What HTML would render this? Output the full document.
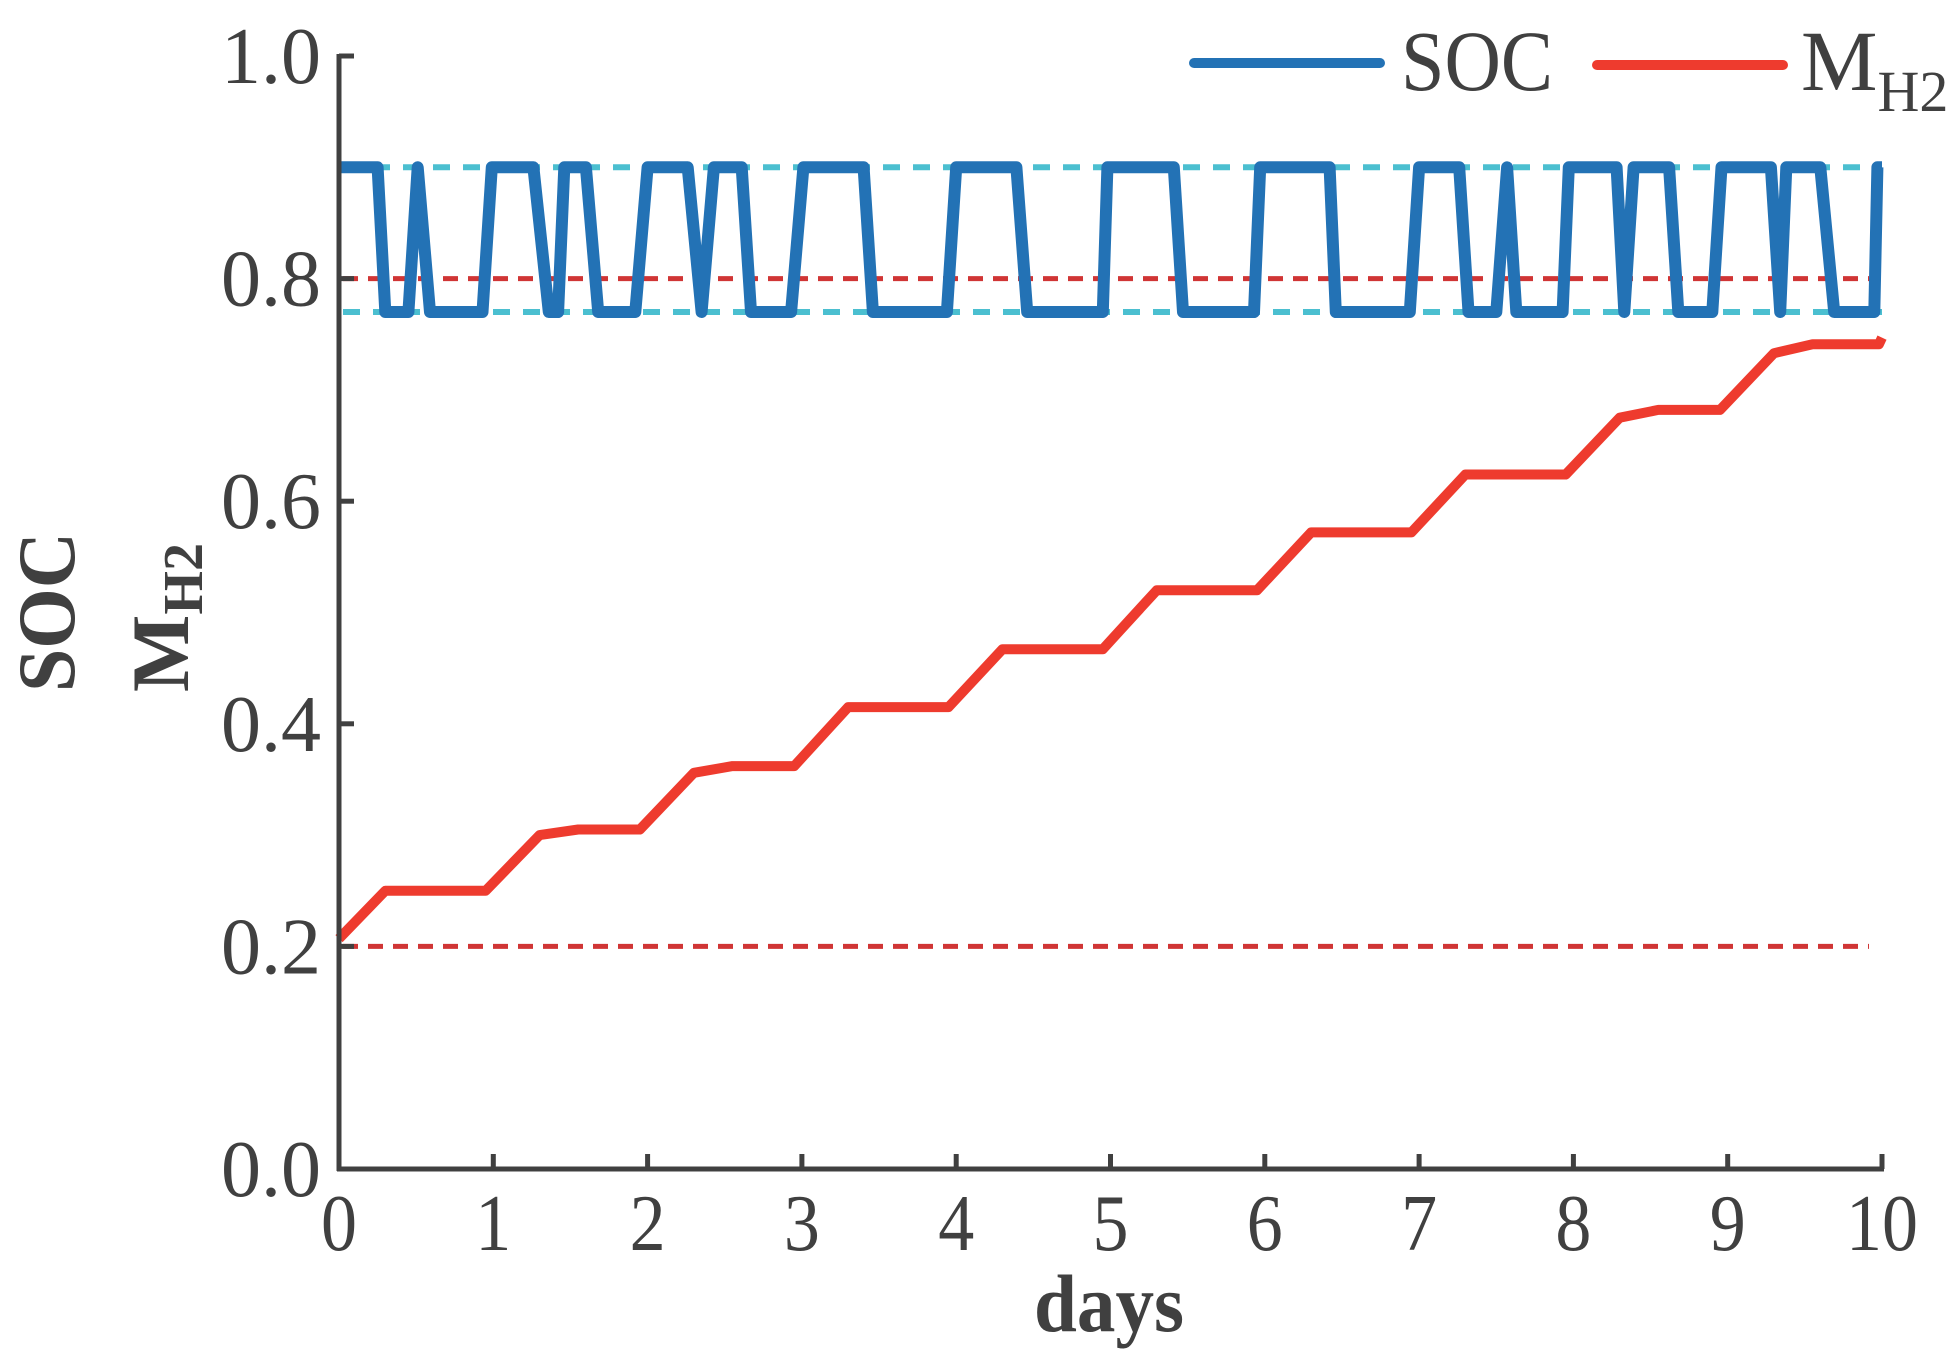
<!DOCTYPE html>
<html><head><meta charset="utf-8"><style>
html,body{margin:0;padding:0;background:#fff;}
svg{display:block;font-family:"Liberation Serif",serif;}
</style></head><body>
<svg id="chart" width="1954" height="1364" viewBox="0 0 1954 1364" xmlns="http://www.w3.org/2000/svg">
<g id="plot"></g>
</svg>
<script>
const socDays=[0,0.25,0.30,0.45,0.51,0.59,0.93,0.99,1.26,1.36,1.42,1.46,1.60,1.68,1.92,2.0,2.26,2.35,2.43,2.61,2.67,2.93,3.01,3.40,3.46,3.94,4.0,4.39,4.46,4.95,4.98,5.41,5.47,5.93,5.97,6.42,6.46,6.94,7.0,7.26,7.32,7.5,7.57,7.63,7.93,7.97,8.28,8.33,8.39,8.62,8.68,8.90,8.96,9.28,9.34,9.38,9.6,9.69,9.95,9.97,10];
const socVals=[0.9,0.9,0.77,0.77,0.9,0.77,0.77,0.9,0.9,0.77,0.77,0.9,0.9,0.77,0.77,0.9,0.9,0.77,0.9,0.9,0.77,0.77,0.9,0.9,0.77,0.77,0.9,0.9,0.77,0.77,0.9,0.9,0.77,0.77,0.9,0.9,0.77,0.77,0.9,0.9,0.77,0.77,0.9,0.77,0.77,0.9,0.9,0.77,0.9,0.9,0.77,0.77,0.9,0.9,0.77,0.9,0.9,0.77,0.77,0.9,0.9];
const mDays=[0,0.3,0.95,1.3,1.55,1.95,2.3,2.55,2.95,3.3,3.95,4.3,4.95,5.3,5.95,6.3,6.95,7.3,7.95,8.3,8.55,8.95,9.3,9.55,9.98,10];
const mVals=[0.207,0.25,0.25,0.30,0.305,0.305,0.356,0.362,0.362,0.415,0.415,0.467,0.467,0.52,0.52,0.572,0.572,0.624,0.624,0.675,0.682,0.682,0.733,0.741,0.741,0.747];
const xTicks=[0,1,2,3,4,5,6,7,8,9,10];
const yTicks=[0.0,0.2,0.4,0.6,0.8,1.0];
const yTickLabels=["0.0","0.2","0.4","0.6","0.8","1.0"];
const cyanLevels=[0.9,0.77];
const redLevels=[0.8,0.2];

const X0=339,X1=1882,Y0=1169,Y1=56;
const sx=d=>X0+(X1-X0)*d/10;
const sy=v=>Y0-(Y0-Y1)*v;
const NS="http://www.w3.org/2000/svg";
const g=document.getElementById('plot');
function mk(tag,attrs,parent){const e=document.createElementNS(NS,tag);for(const k in attrs)e.setAttribute(k,attrs[k]);(parent||g).appendChild(e);return e;}

cyanLevels.forEach(v=>{
const l=mk('line',{x1:X0+4,x2:X1,y1:sy(v),y2:sy(v),stroke:'#4bbfd0','stroke-width':6,'stroke-dasharray':'17 13'});


});
redLevels.forEach(v=>{
const l=mk('line',{x1:X0+4,x2:1869,y1:sy(v),y2:sy(v),stroke:'#d03535','stroke-width':5,'stroke-dasharray':'15 10'});


});

let p=socDays.map((d,i)=>(i?'L':'M')+sx(d).toFixed(1)+','+sy(socVals[i]).toFixed(1)).join('');
const soc=mk('path',{d:p,fill:'none',stroke:'#2372b5','stroke-width':12,'stroke-linejoin':'round'});


p=mDays.map((d,i)=>(i?'L':'M')+sx(d).toFixed(1)+','+sy(mVals[i]).toFixed(1)).join('');
const mh=mk('path',{d:p,fill:'none',stroke:'#ee3b2e','stroke-width':10,'stroke-linejoin':'round'});



const ya=mk('line',{x1:X0,x2:X0,y1:Y1-2,y2:Y0+2,stroke:'#404040','stroke-width':5});


const xa=mk('line',{x1:X0-2,x2:X1+2,y1:Y0,y2:Y0,stroke:'#404040','stroke-width':5});


yTicks.forEach((v,i)=>{
const t=mk('line',{x1:X0,x2:X0+15,y1:sy(v),y2:sy(v),stroke:'#404040','stroke-width':5});


const tx=mk('text',{x:321,y:sy(v)+27,'text-anchor':'end','font-size':80,fill:'#404040',textLength:100,lengthAdjust:'spacingAndGlyphs'});
tx.textContent=yTickLabels[i];


});
xTicks.forEach(d=>{
const t=mk('line',{x1:sx(d),x2:sx(d),y1:Y0,y2:Y0-15,stroke:'#404040','stroke-width':5});


const s=String(d);
const tx=mk('text',{x:sx(d),y:1250,'text-anchor':'middle','font-size':80,fill:'#404040',textLength:s.length*36,lengthAdjust:'spacingAndGlyphs'});
tx.textContent=s;


});
</script>
<div style="position:absolute;left:0;top:0;width:1954px;height:1364px;pointer-events:none">
<svg width="1954" height="1364" style="position:absolute;left:0;top:0" font-family="Liberation Serif, serif">
<text x="1109" y="1331" text-anchor="middle" font-size="82" font-weight="bold" fill="#404040" textLength="150" lengthAdjust="spacingAndGlyphs">days</text>
<g transform="translate(74,612) rotate(-90)">
<text x="0" y="0" text-anchor="middle" font-size="82" font-weight="bold" fill="#404040" textLength="160" lengthAdjust="spacingAndGlyphs">SOC</text>
</g>
<g transform="translate(188,612) rotate(-90)">
<text x="-80" y="0" font-size="82" font-weight="bold" fill="#404040">M<tspan font-size="56" dy="14">H2</tspan></text>
</g>
<g>
<line x1="1194" y1="63" x2="1380" y2="63" stroke="#2372b5" stroke-width="10" stroke-linecap="round"/>
<text x="1401" y="90" font-size="86" fill="#404040" textLength="152" lengthAdjust="spacingAndGlyphs">SOC</text>
<line x1="1597" y1="65" x2="1783" y2="65" stroke="#ee3b2e" stroke-width="10" stroke-linecap="round"/>
<text x="1801" y="90" font-size="86" fill="#404040">M<tspan font-size="58" dy="21">H2</tspan></text>
</g>
</svg>
</div>
</body></html>
